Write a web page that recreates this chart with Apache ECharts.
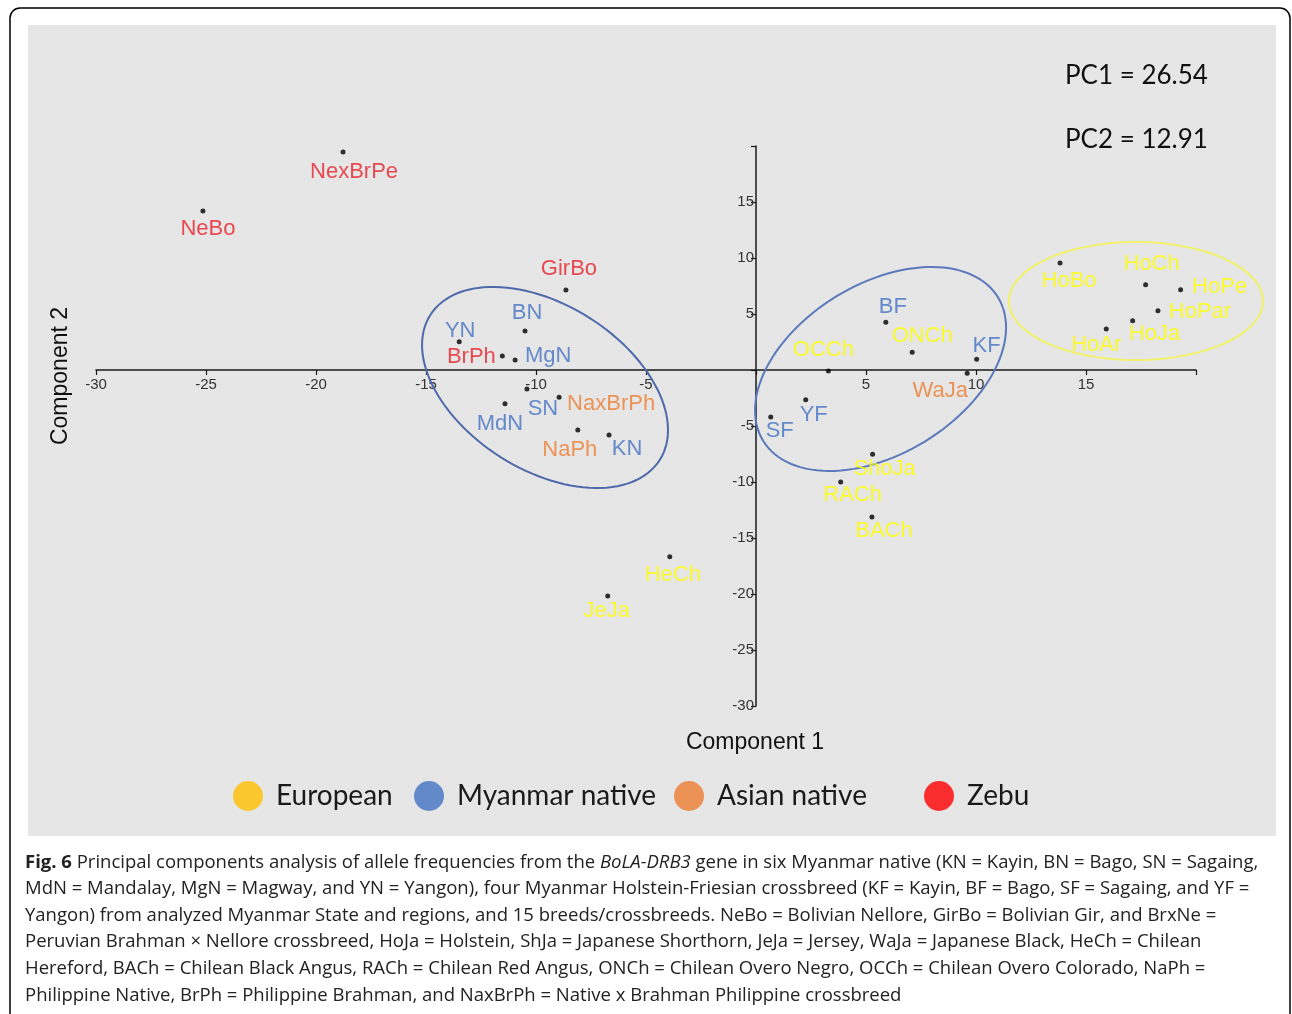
<!DOCTYPE html>
<html><head><meta charset="utf-8">
<script src="https://cdn.jsdelivr.net/npm/echarts@6/dist/echarts.min.js"></script>
<style>html,body{margin:0;padding:0;background:#fff}#c{width:1292px;height:1014px}</style>
</head><body><div id="c"></div>
<script>
// ---- data ----
const groups = ['European', 'Myanmar native', 'Asian native', 'Zebu'];

const europeanNames = ['OCCh','ONCh','ShoJa','RACh','BACh','HoBo','HoCh','HoPe','HoPar','HoJa','HoAr','HeCh','JeJa'];
const europeanPoints = [[3.29,-0.09],[7.10,1.58],[5.30,-7.53],[3.85,-10.0],[5.27,-13.12],[13.82,9.55],[17.71,7.62],[19.30,7.17],[18.27,5.30],[17.12,4.40],[15.92,3.66],[-3.92,-16.67],[-6.74,-20.18]];

const myanmarNames = ['BN','YN','MgN','SN','MdN','KN','BF','KF','YF','SF'];
const myanmarPoints = [[-10.50,3.48],[-13.49,2.53],[-10.95,0.89],[-10.41,-1.70],[-11.41,-3.01],[-6.68,-5.80],[5.90,4.26],[10.03,0.95],[2.26,-2.65],[0.67,-4.20]];

const asianNames = ['NaxBrPh','NaPh','WaJa'];
const asianPoints = [[-8.95,-2.44],[-8.10,-5.36],[9.60,-0.30]];

const zebuNames = ['NexBrPe','NeBo','GirBo','BrPh'];
const zebuPoints = [[-18.77,19.46],[-25.14,14.20],[-8.64,7.14],[-11.53,1.25]];

const ellipseCenters = [[-9.59,-1.56],[5.66,0.09],[17.27,6.16]];

const axisTicks = [-30,-25,-20,-15,-10,-5,5,10,15];

const pcTexts = ['PC1 = 26.54', 'PC2 = 12.91'];

const captionLines = [
  '{b|Fig. 6} Principal components analysis of allele frequencies from the {i|BoLA-DRB3} gene in six Myanmar native (KN = Kayin, BN = Bago, SN = Sagaing,',
  'MdN = Mandalay, MgN = Magway, and YN = Yangon), four Myanmar Holstein-Friesian crossbreed (KF = Kayin, BF = Bago, SF = Sagaing, and YF =',
  'Yangon) from analyzed Myanmar State and regions, and 15 breeds/crossbreeds. NeBo = Bolivian Nellore, GirBo = Bolivian Gir, and BrxNe =',
  'Peruvian Brahman \u00d7 Nellore crossbreed, HoJa = Holstein, ShJa = Japanese Shorthorn, JeJa = Jersey, WaJa = Japanese Black, HeCh = Chilean',
  'Hereford, BACh = Chilean Black Angus, RACh = Chilean Red Angus, ONCh = Chilean Overo Negro, OCCh = Chilean Overo Colorado, NaPh =',
  'Philippine Native, BrPh = Philippine Brahman, and NaxBrPh = Native x Brahman Philippine crossbreed'
];

// ---- styles ----
const labelOffsets = {
  NexBrPe:[11,20], NeBo:[5,18], GirBo:[3,-21], BN:[2,-18], YN:[1,-11], BrPh:[-31,1], MgN:[33,-4],
  SN:[16,20], NaxBrPh:[52,7], MdN:[-5,20], NaPh:[-8,20], KN:[18,14], BF:[7,-15], ONCh:[10,-16],
  KF:[10,-13], WaJa:[-27,18], OCCh:[-5,-21], YF:[8,15], SF:[9,14], ShoJa:[12,15], RACh:[12,13],
  BACh:[12,14], HoBo:[9,18], HoCh:[6,-21], HoPe:[39,-3], HoPar:[42,1], HoJa:[22,13], HoAr:[-10,16],
  HeCh:[3,18], JeJa:[-1,15]
};
const labelColors = ['#FFFF00', '#4472C4', '#ED7D31', '#E8212B'];
const legendColors = ['#FFC000', '#4472C4', '#ED7D31', '#FF0000'];
const legendLefts = [233, 414, 674, 924];
const ellipseShapes = [
  {a:135.7, b:82.6, rot:32.2, color:'#4F6AAA'},
  {a:137.6, b:85, rot:-31.4, color:'#5B79BB'},
  {a:127, b:59, rot:0, color:'#F2F26A'}
];

const groupNames = [europeanNames, myanmarNames, asianNames, zebuNames];
const groupPoints = [europeanPoints, myanmarPoints, asianPoints, zebuPoints];

const chart = echarts.init(document.getElementById('c'));

const scatterSeries = groups.map((g, gi) => ({
  type: 'scatter', name: g, symbolSize: 5, z: 5,
  itemStyle: { color: '#000' },
  emphasis: { disabled: true },
  data: groupNames[gi].map((n, i) => ({ name: n, value: groupPoints[gi][i], label: { offset: labelOffsets[n] } })),
  label: { show: true, position: 'inside', formatter: '{b}', color: labelColors[gi], fontSize: 22, fontFamily: 'Liberation Sans, Arial, sans-serif' }
}));

const ellipseSeries = {
  type: 'custom', name: 'ellipses', silent: true, z: 3,
  data: ellipseCenters,
  renderItem: function (params, api) {
    const c = api.coord([api.value(0), api.value(1)]);
    const e = ellipseShapes[params.dataIndex];
    const th = e.rot * Math.PI / 180;
    const pts = [];
    for (let k = 0; k < 120; k++) {
      const t = k / 120 * Math.PI * 2;
      const ex = e.a * Math.cos(t), ey = e.b * Math.sin(t);
      pts.push([c[0] + ex * Math.cos(th) - ey * Math.sin(th), c[1] + ex * Math.sin(th) + ey * Math.cos(th)]);
    }
    return { type: 'polygon', shape: { points: pts }, style: { fill: 'transparent', stroke: e.color, lineWidth: 2 } };
  }
};

const tickFmt = v => axisTicks.indexOf(v) >= 0 ? String(v) : '';
function axisOf(pos, off, margin) {
  return {
    type: 'value', min: -30, max: 20, interval: 5, position: pos, offset: off,
    axisLine: { onZero: false, lineStyle: { color: '#1a1a1a', width: 1.5 } },
    axisTick: { show: true, length: 5, lineStyle: { color: '#1a1a1a', width: 1.2 } },
    splitLine: { show: false },
    axisLabel: { formatter: tickFmt, fontSize: 15, color: '#333', fontFamily: 'Liberation Sans, Arial, sans-serif', margin: margin }
  };
}

chart.setOption({
  backgroundColor: '#fff',
  animation: false,
  grid: { left: 96, top: 146, width: 1100, height: 560, containLabel: false },
  xAxis: axisOf('bottom', -336, 7),
  yAxis: axisOf('left', -660, 2),
  legend: groups.map((g, i) => ({
    data: [{ name: g, icon: 'circle', itemStyle: { color: legendColors[i] } }],
    left: legendLefts[i], top: 781, padding: 0, itemWidth: 30, itemHeight: 32, selectedMode: false,
    textStyle: { fontFamily: 'Lato, sans-serif', fontSize: 28, color: '#1a1a1a', padding: [0, 0, 0, 8] }
  })),
  graphic: [
    { type: 'rect', z: -20, shape: { x: 10, y: 8, width: 1280, height: 1030, r: 10 }, style: { fill: '#fff', stroke: '#000', lineWidth: 1.5 } },
    { type: 'rect', z: -19, shape: { x: 28, y: 25, width: 1248, height: 811 }, style: { fill: '#E6E6E6' } },
    { type: 'text', z: 10, x: 1065, y: 76, style: { text: pcTexts[0], fontFamily: 'Lato, sans-serif', fontSize: 26, fill: '#111', textVerticalAlign: 'middle', verticalAlign: 'middle' } },
    { type: 'text', z: 10, x: 1065, y: 140, style: { text: pcTexts[1], fontFamily: 'Lato, sans-serif', fontSize: 26, fill: '#111', textVerticalAlign: 'middle', verticalAlign: 'middle' } },
    { type: 'text', z: 10, x: 755, y: 743, style: { text: 'Component 1', fontFamily: 'Liberation Sans, Arial, sans-serif', fontSize: 23, fill: '#111', textAlign: 'center', align: 'center', textVerticalAlign: 'middle', verticalAlign: 'middle' } },
    { type: 'text', z: 10, x: 61, y: 376, rotation: Math.PI / 2, style: { text: 'Component 2', fontFamily: 'Liberation Sans, Arial, sans-serif', fontSize: 23, fill: '#111', textAlign: 'center', align: 'center', textVerticalAlign: 'middle', verticalAlign: 'middle' } },
    { type: 'text', z: 10, x: 25, y: 849, style: {
        text: captionLines.join('\n'), fontFamily: 'Open Sans, sans-serif', fontSize: 18.5, lineHeight: 26.6, fill: '#222',
        rich: {
          b: { fontFamily: 'Open Sans, sans-serif', fontWeight: 'bold', fontSize: 18.5, lineHeight: 26.6, fill: '#222' },
          i: { fontFamily: 'Open Sans, sans-serif', fontStyle: 'italic', fontSize: 18.5, lineHeight: 26.6, fill: '#222' }
        }
    } }
  ],
  series: [ellipseSeries].concat(scatterSeries)
});
</script>
</body></html>
